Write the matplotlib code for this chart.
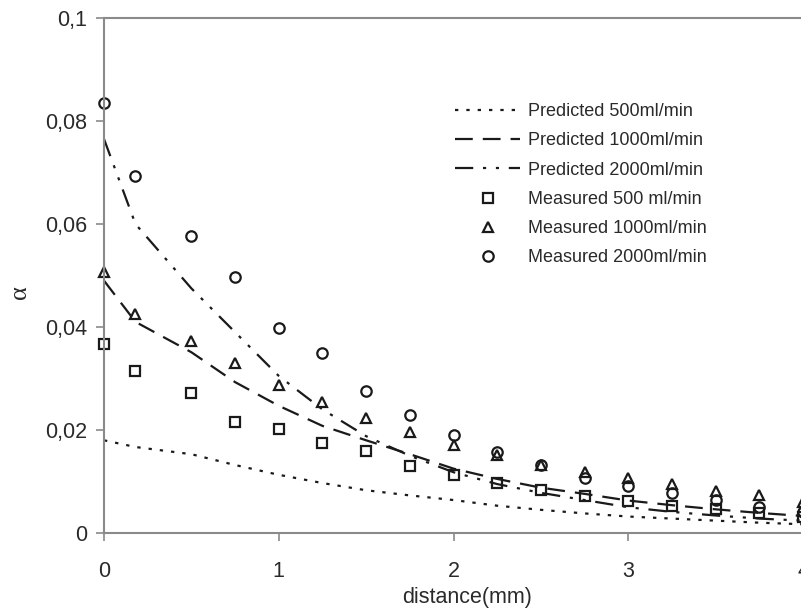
import matplotlib
matplotlib.use("Agg")
import matplotlib.pyplot as plt
from matplotlib.ticker import FuncFormatter

plt.rcParams['font.family'] = ['Liberation Sans', 'DejaVu Sans']

distance = [0, 0.18, 0.5, 0.75, 1, 1.25, 1.5, 1.75, 2, 2.25, 2.5, 2.75, 3, 3.25, 3.5, 3.75, 4]

pred_500 = [0.0180, 0.0167, 0.0153, 0.0132, 0.0113, 0.0097, 0.0083, 0.0073, 0.0064,
            0.0053, 0.0045, 0.0038, 0.0032, 0.0028, 0.0024, 0.0020, 0.0017]
pred_1000 = [0.0490, 0.0410, 0.0351, 0.0293, 0.0247, 0.0208, 0.0180, 0.0153, 0.0125,
             0.0105, 0.0088, 0.0076, 0.0063, 0.0054, 0.0046, 0.0039, 0.0033]
pred_2000 = [0.0765, 0.0600, 0.0475, 0.0390, 0.0305, 0.0240, 0.0188, 0.0150, 0.0118,
             0.0095, 0.0078, 0.0064, 0.0050, 0.0041, 0.0034, 0.0028, 0.0024]

meas_500 = [0.0367, 0.0315, 0.0272, 0.0216, 0.0202, 0.0175, 0.0160, 0.0130, 0.0113,
            0.0098, 0.0083, 0.0071, 0.0062, 0.0053, 0.0046, 0.0039, 0.0032]
meas_1000 = [0.0507, 0.0425, 0.0373, 0.0330, 0.0287, 0.0254, 0.0223, 0.0196, 0.0171,
             0.0151, 0.0132, 0.0118, 0.0107, 0.0095, 0.0082, 0.0074, 0.0060]
meas_2000 = [0.0835, 0.0693, 0.0577, 0.0497, 0.0398, 0.0350, 0.0276, 0.0229, 0.0190,
             0.0157, 0.0132, 0.0107, 0.0091, 0.0077, 0.0064, 0.0051, 0.0041]

labels = ["Predicted 500ml/min", "Predicted 1000ml/min", "Predicted 2000ml/min",
          "Measured 500 ml/min", "Measured 1000ml/min", "Measured 2000ml/min"]

W, H = 801, 615
fig = plt.figure(figsize=(W / 100, H / 100), dpi=100)
left, right, top, bottom = 104, 803, 18, 533
ax = fig.add_axes([left / W, (H - bottom) / H, (right - left) / W, (bottom - top) / H])

lc = '#1a1a1a'
lw = 1.6
ax.plot(distance, pred_500, color=lc, lw=lw, dashes=(1.5, 3.6), label=labels[0], clip_on=False)
ax.plot(distance, pred_1000, color=lc, lw=lw, dashes=(8, 4.5), label=labels[1], clip_on=False)
ax.plot(distance, pred_2000, color=lc, lw=lw, dashes=(8.2, 4.4, 1.4, 4.4, 1.4, 4.4), label=labels[2], clip_on=False)

mk = dict(linestyle='none', markerfacecolor='none', markeredgecolor=lc, markersize=7.5,
          markeredgewidth=1.6, clip_on=False)
ax.plot(distance, meas_500, marker='s', label=labels[3], **mk)
ax.plot(distance, meas_1000, marker='^', label=labels[4], **mk)
ax.plot(distance, meas_2000, marker='o', label=labels[5], **mk)

ax.set_xlim(0, 4)
ax.set_ylim(0, 0.1)
ax.set_xticks([0, 1, 2, 3, 4])
ax.set_yticks([0, 0.02, 0.04, 0.06, 0.08, 0.1])
ax.yaxis.set_major_formatter(FuncFormatter(lambda v, p: ('%g' % round(v, 3)).replace('.', ',')))

spine_c = '#8a8a8a'
for s in ['left', 'bottom', 'top']:
    ax.spines[s].set_color(spine_c)
    ax.spines[s].set_linewidth(1.5)
ax.spines['right'].set_visible(False)
ax.tick_params(axis='both', direction='out', length=6, width=1.2, color=spine_c,
               labelsize=15.5, labelcolor='#2a2a2a')
ax.tick_params(axis='y', pad=6)
ax.tick_params(axis='x', pad=14)

ax.set_xlabel('distance(mm)', fontsize=15.5, color='#2a2a2a')
ax.xaxis.set_label_coords((467 - left) / (right - left), -(598 - bottom) / (bottom - top))
ax.xaxis.label.set_va('center')
ax.set_ylabel('α', fontsize=19, color='#2a2a2a', family=['Liberation Serif', 'DejaVu Serif'])
ax.yaxis.set_label_coords(-(left - 20) / (right - left), (bottom - 292) / (bottom - top))
ax.yaxis.label.set_va('center')

leg = ax.legend(loc='upper left', bbox_to_anchor=(446 / W, 1 - 94 / H), bbox_transform=fig.transFigure,
                frameon=False, fontsize=13, handlelength=3.6, handletextpad=0.45,
                labelspacing=0.68, borderpad=0, markerscale=1.0)
for t in leg.get_texts():
    t.set_color('#2a2a2a')

fig.savefig('out.png', dpi=100)
